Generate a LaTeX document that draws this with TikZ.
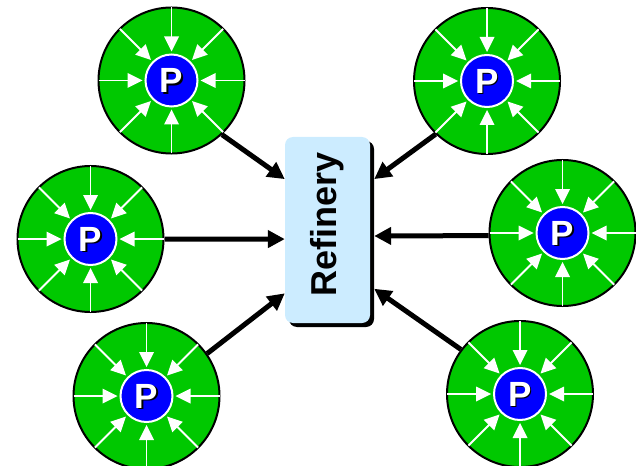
\documentclass[tikz,border=0pt]{standalone}
\usepackage{fontspec}
\setmainfont{Liberation Sans}
\usetikzlibrary{arrows.meta,shadows,calc}
\definecolor{pgreen}{RGB}{0,200,0}
\definecolor{pblue}{RGB}{0,0,255}
\definecolor{boxblue}{RGB}{204,236,255}
\tikzset{
  well/.style={circle,draw=black,line width=2pt,fill=pgreen,minimum size=146pt,inner sep=0pt},
  pump/.style={circle,draw=white,line width=2pt,fill=pblue,minimum size=52pt,inner sep=0pt},
  flowline/.style={draw=white,line width=1.8pt},
  flowhead/.style={fill=white},
  feed/.style={draw=black,line width=5pt,-{Triangle[length=17pt,width=17pt]}},
  plabel/.style={font=\bfseries\fontsize{35}{38}\selectfont,inner sep=0pt},
  refbox/.style={fill=boxblue,rounded corners=8pt,minimum width=85pt,minimum height=186pt,inner sep=0pt,
    drop shadow={shadow xshift=4pt,shadow yshift=-4pt,opacity=1,fill=black}},
  reftext/.style={font=\bfseries\fontsize{36}{40}\selectfont,rotate=90,inner sep=0pt}
}
\begin{document}
\begin{tikzpicture}[x=1pt,y=-1pt]
\useasboundingbox (0,0) rectangle (636,465);
\foreach \n/\cx/\cy in {1/171.5/80.5, 2/487/81, 3/90.5/239, 4/562.5/233, 5/146.5/396, 6/520/394}{
  \node[well] (c\n) at (\cx,\cy) {};
  \foreach \a in {0,45,...,315}{
    \draw[flowline] ($(\cx,\cy)+(\a:73pt)$) -- ($(\cx,\cy)+(\a:40pt)$);
    \fill[flowhead] ($(\cx,\cy)+(\a:29pt)$) -- ($(\cx,\cy)+(\a:44pt)+(\a+90:7.5pt)$)
       -- ($(\cx,\cy)+(\a:44pt)+(\a-90:7.5pt)$) -- cycle;
  }
  \node[pump] (p\n) at (\cx,\cy) {};
  \node[plabel,text=black] (ps\n) at (\cx+1.5,\cy+1.5) {P};
  \node[plabel,text=white] (pt\n) at (\cx,\cy) {P};
}
\node[refbox] (ref) at (327.5,230) {};
\node[reftext] (reft) at (327,224) {Refinery};
\draw[feed] (c1.-47.2) -- (ref.130.9);
\draw[feed] (c3.0) -- (ref.192);
\draw[feed] (c5.35.4) -- (ref.236.8);
\draw[feed] (c2.226.7) -- ([xshift=4pt]ref.50.2);
\draw[feed] (c4.182.4) -- ([xshift=4pt]ref.-8);
\draw[feed] (c6.143.3) -- ([xshift=4pt]ref.-54.7);
\end{tikzpicture}
\end{document}
